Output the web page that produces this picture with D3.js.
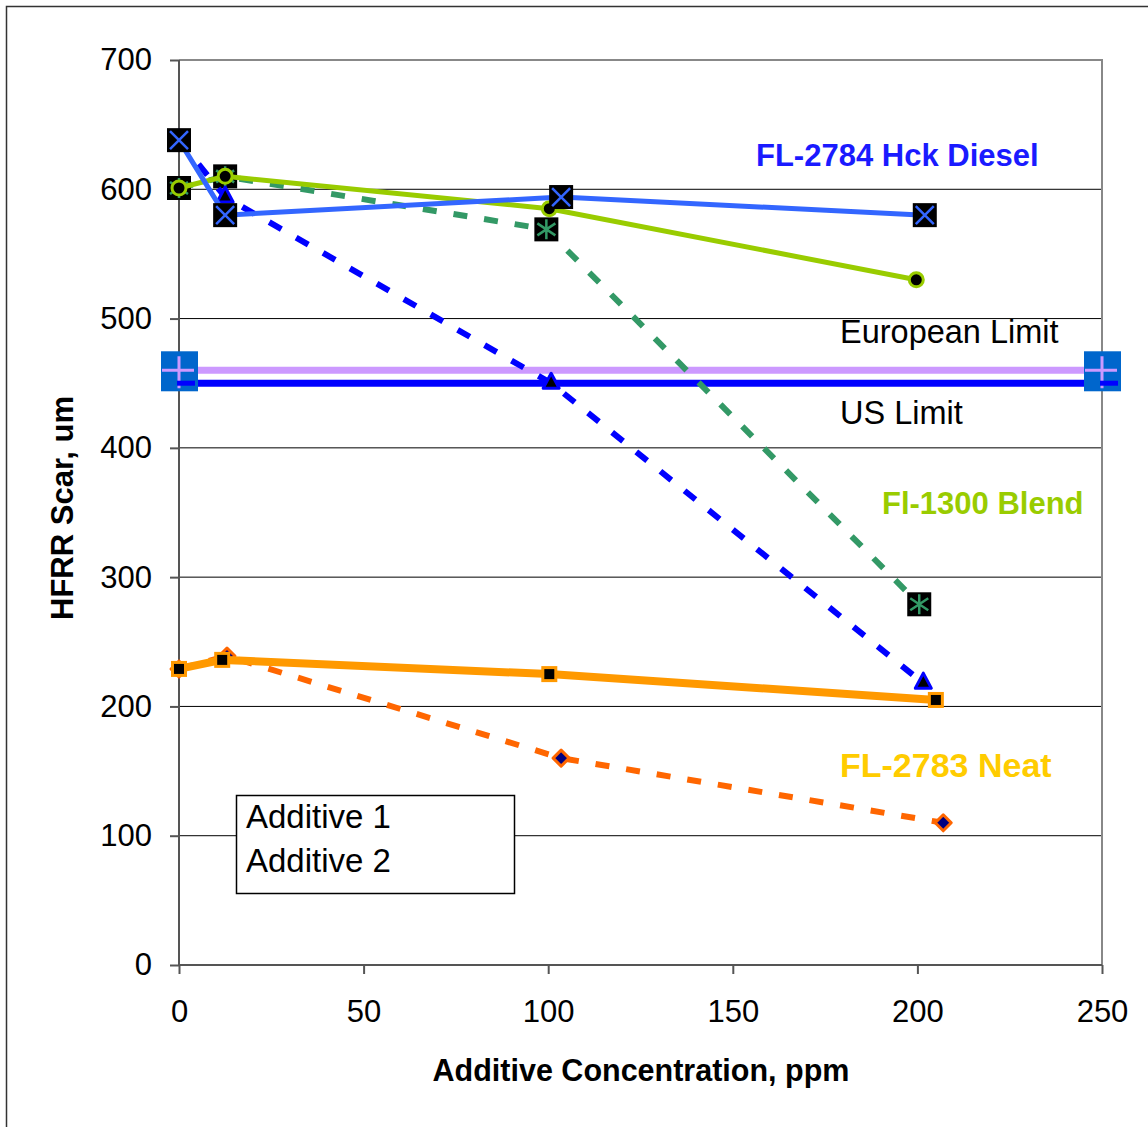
<!DOCTYPE html>
<html>
<head>
<meta charset="utf-8">
<script src="https://cdn.jsdelivr.net/npm/d3@7"></script>
<style>
  body { margin: 0; background: #fff; }
  text { font-family: "Liberation Sans", Arial, sans-serif; }
</style>
</head>
<body>
<div id="chart"></div>
<script>
// values
const xTicks = [0, 50, 100, 150, 200, 250];
const yTicks = [0, 100, 200, 300, 400, 500, 600, 700];

const hckAdd1 = [[0, 638], [12.5, 580], [103.5, 594], [202, 580]];
const hckAdd2 = [[0, 638], [12.5, 594], [100.8, 450], [201.6, 218]];
const blendAdd1 = [[0, 601], [12.5, 610], [100.3, 585], [199.7, 530]];
const blendAdd2 = [[0, 601], [12.5, 610], [99.5, 569], [200.5, 279]];
const neatAdd1 = [[0, 229], [11.7, 236], [100.3, 225], [205, 205]];
const neatAdd2 = [[0, 229], [13, 239], [103.5, 160], [207, 110]];
const euroLimit = [[0, 460], [250, 460]];
const usLimit = [[0, 450], [250, 450]];

const legendNames = ["Additive 1", "Additive 2"];

var width = 1148, height = 1127;
var plot = { left: 179, right: 1102, top: 60, bottom: 965 };

let svg = d3.select('#chart').append('svg')
    .attr('width', width)
    .attr('height', height);

// outer chart frame
svg.append('rect')
    .attr('x', 6.5).attr('y', 6.5)
    .attr('width', width + 10).attr('height', height + 10)
    .attr('fill', 'none')
    .attr('stroke', '#333')
    .attr('stroke-width', 1.5);

let xScale = d3.scaleLinear().domain([0, 250]).range([plot.left, plot.right]);
let yScale = d3.scaleLinear().domain([0, 700]).range([plot.bottom, plot.top]);

// gridlines
svg.append('g')
    .selectAll('line')
    .data(yTicks.filter(d => d > 0 && d < 700))
    .enter().append('line')
    .attr('x1', plot.left).attr('x2', plot.right)
    .attr('y1', d => yScale(d)).attr('y2', d => yScale(d))
    .attr('stroke', '#000')
    .attr('stroke-width', 1);

// plot border top / right
svg.append('path')
    .attr('d', `M${plot.left},${plot.top}H${plot.right}V${plot.bottom}`)
    .attr('fill', 'none')
    .attr('stroke', '#888')
    .attr('stroke-width', 2);

// axes
let yAxis = d3.axisLeft(yScale).tickValues(yTicks).tickSize(9).tickPadding(18);
let gy = svg.append('g')
    .attr('transform', 'translate(' + plot.left + ',0)')
    .call(yAxis);
let xAxis = d3.axisBottom(xScale).tickValues(xTicks).tickSize(9).tickPadding(26);
let gx = svg.append('g')
    .attr('transform', 'translate(0,' + plot.bottom + ')')
    .call(xAxis);
[gx, gy].forEach(g => {
    g.select('.domain').attr('stroke', '#555').attr('stroke-width', 2);
    g.selectAll('.tick line').attr('stroke', '#555').attr('stroke-width', 2);
    g.selectAll('.tick text')
        .attr('fill', '#000')
        .style('font-size', '31px')
        .style('font-family', '"Liberation Sans", Arial, sans-serif');
});
gx.select('.domain').attr('d', `M${plot.left},0H${plot.right}`);
gy.select('.domain').attr('d', `M0,${plot.bottom}V${plot.top}`);

// axis titles
svg.append('text')
    .attr('x', 641).attr('y', 1081)
    .attr('text-anchor', 'middle')
    .style('font-size', '30.5px').style('font-weight', 'bold')
    .text('Additive Concentration, ppm');

svg.append('text')
    .attr('transform', 'translate(73,508) rotate(-90)')
    .attr('text-anchor', 'middle')
    .style('font-size', '31px').style('font-weight', 'bold')
    .text('HFRR Scar, um');

let line = d3.line().x(d => xScale(d[0])).y(d => yScale(d[1]));

function drawLine(data, color, w, dash) {
    svg.append('path')
        .datum(data)
        .attr('d', line)
        .attr('fill', 'none')
        .attr('stroke', color)
        .attr('stroke-width', w)
        .attr('stroke-dasharray', dash || null);
}

// marker painters
function markers(data, fn) {
    let g = svg.append('g');
    data.forEach(d => fn(g.append('g')
        .attr('transform', 'translate(' + xScale(d[0]) + ',' + yScale(d[1]) + ')')));
}
function xBox(g) {
    g.append('rect').attr('x', -12).attr('y', -12).attr('width', 24).attr('height', 24).attr('fill', '#000');
    g.append('path').attr('d', 'M-9,-9L9,9M9,-9L-9,9').attr('stroke', '#3366ff').attr('stroke-width', 2.5);
}
function starBox(g) {
    g.append('rect').attr('x', -12).attr('y', -12).attr('width', 24).attr('height', 24).attr('fill', '#000');
    g.append('path').attr('d', 'M0,-10V10M-9,-6L9,6M9,-6L-9,6').attr('stroke', '#339966').attr('stroke-width', 2.5);
}
function ring(g) {
    g.append('circle').attr('r', 7).attr('fill', '#000').attr('stroke', '#99cc00').attr('stroke-width', 3);
}
function triangle(g) {
    g.append('path').attr('d', 'M0,-10L8,5H-8Z').attr('fill', '#000').attr('stroke', '#0000ff').attr('stroke-width', 3).attr('stroke-linejoin', 'round');
}
function orangeSquare(g) {
    g.append('rect').attr('x', -6.5).attr('y', -6.5).attr('width', 13).attr('height', 13)
        .attr('fill', '#000').attr('stroke', '#ff9900').attr('stroke-width', 3);
}
function diamond(g) {
    g.append('path').attr('d', 'M0,-8L8,0L0,8L-8,0Z').attr('fill', '#000080').attr('stroke', '#ff6600').attr('stroke-width', 3).attr('stroke-linejoin', 'round');
}
function plusBox(g) {
    g.append('rect').attr('x', -18).attr('y', -19).attr('width', 37).attr('height', 40).attr('fill', '#0066cc');
    g.append('path').attr('d', 'M-17,0H15M0,-14V18').attr('stroke', '#cc99ff').attr('stroke-width', 3);
}
function dash(g) {
    g.append('path').attr('d', 'M-2,0H16').attr('stroke', '#0000ff').attr('stroke-width', 5);
}

// limit lines
drawLine(euroLimit, '#cc99ff', 7);
drawLine(usLimit, '#0000ff', 7);
markers(euroLimit, plusBox);
markers(usLimit, dash);

// additive 2 (dashed)
drawLine(blendAdd2, '#339966', 6, '14,17');
markers(blendAdd2, starBox);
drawLine(hckAdd2, '#0000ff', 6, '14,17');
markers(hckAdd2, triangle);
drawLine(neatAdd2, '#ff6600', 6, '14,17');
markers(neatAdd2, diamond);

// additive 1 (solid)
drawLine(blendAdd1, '#99cc00', 5);
markers(blendAdd1, ring);
drawLine(hckAdd1, '#3366ff', 5);
markers(hckAdd1, xBox);
drawLine(neatAdd1, '#ff9900', 8);
markers(neatAdd1, orangeSquare);

// series labels
const labels = [
    { t: 'FL-2784 Hck Diesel', x: 756, y: 166, c: '#1a1aff', b: true, s: 31 },
    { t: 'European Limit', x: 840, y: 343, c: '#000', b: false, s: 32.5 },
    { t: 'US Limit', x: 840, y: 424, c: '#000', b: false, s: 32.5 },
    { t: 'Fl-1300 Blend', x: 882, y: 514, c: '#99cc00', b: true, s: 31 },
    { t: 'FL-2783 Neat', x: 840, y: 777, c: '#ffcc00', b: true, s: 34 }
];
svg.selectAll('.lbl').data(labels).enter().append('text')
    .attr('class', 'lbl')
    .attr('x', d => d.x).attr('y', d => d.y)
    .attr('fill', d => d.c)
    .style('font-size', d => d.s + 'px')
    .style('font-weight', d => d.b ? 'bold' : 'normal')
    .text(d => d.t);

// legend box
let legend = svg.append('g');
legend.append('rect')
    .attr('x', 236.5).attr('y', 795.5).attr('width', 278).attr('height', 98)
    .attr('fill', '#fff').attr('stroke', '#000').attr('stroke-width', 1.5);
legend.selectAll('text').data(legendNames).enter().append('text')
    .attr('x', 246).attr('y', (d, i) => 828 + i * 44)
    .style('font-size', '33px')
    .text(d => d);
</script>
</body>
</html>
